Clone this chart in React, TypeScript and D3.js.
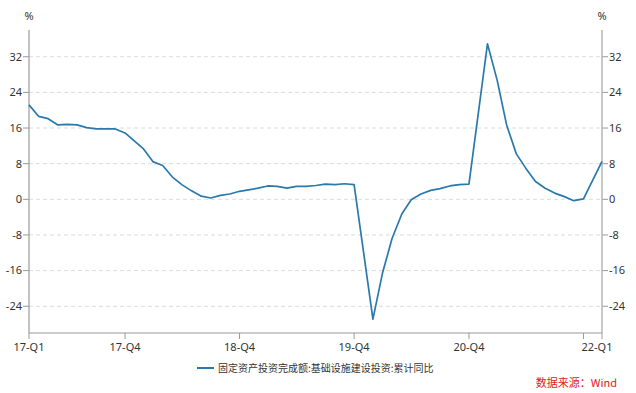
import React from "react";
import * as d3 from "d3";

const months: string[] = [
  "2017-02","2017-03","2017-04","2017-05","2017-06","2017-07","2017-08","2017-09","2017-10","2017-11","2017-12",
  "2018-02","2018-03","2018-04","2018-05","2018-06","2018-07","2018-08","2018-09","2018-10","2018-11","2018-12",
  "2019-02","2019-03","2019-04","2019-05","2019-06","2019-07","2019-08","2019-09","2019-10","2019-11","2019-12",
  "2020-02","2020-03","2020-04","2020-05","2020-06","2020-07","2020-08","2020-09","2020-10","2020-11","2020-12",
  "2021-02","2021-03","2021-04","2021-05","2021-06","2021-07","2021-08","2021-09","2021-10","2021-11","2021-12",
  "2022-02",
];

const values: number[] = [
  21.2, 18.6, 18.1, 16.7, 16.8, 16.7, 16.1, 15.8, 15.8, 15.8, 14.9,
  11.3, 8.4, 7.6, 5.0, 3.3, 1.9, 0.7, 0.3, 0.9, 1.2, 1.8,
  2.5, 3.0, 2.9, 2.5, 2.9, 2.9, 3.1, 3.4, 3.3, 3.5, 3.3,
  -26.9, -16.4, -8.8, -3.3, -0.1, 1.2, 2.0, 2.4, 3.0, 3.3, 3.4,
  34.9, 26.7, 16.7, 10.2, 7.0, 4.0, 2.5, 1.4, 0.6, -0.3, 0.1,
  8.5,
];

const xTickMonths: string[] = ["2017-02", "2017-12", "2018-12", "2019-12", "2020-12", "2021-12", "2022-02"];
const xTickLabels: string[] = ["17-Q1", "17-Q4", "18-Q4", "19-Q4", "20-Q4", "", "22-Q1"];
const yTicks: number[] = [-24, -16, -8, 0, 8, 16, 24, 32];
const yDomain: [number, number] = [-30, 38];

const seriesName = "固定资产投资完成额:基础设施建设投资:累计同比";
const sourceText = "数据来源：Wind";
const unitLabel = "%";

const W = 636;
const H = 393;
const left = 29;
const right = 602;
const top = 30;
const bottom = 333;

const toDate = (m: string) => {
  const [y, mo] = m.split("-").map(Number);
  return new Date(y, mo, 0);
};

const FONT = "'Noto Sans', 'Noto Sans CJK SC', sans-serif";
const LINE = "#2a79ad";

export default function App() {
  const dates = months.map(toDate);
  const x = d3.scaleTime().domain([dates[0], dates[dates.length - 1]]).range([left, right]);
  const y = d3.scaleLinear().domain(yDomain).range([bottom, top]);
  const data = dates.map((d, i) => ({ d, v: values[i] }));
  const line = d3.line<{ d: Date; v: number }>().x((p) => x(p.d)).y((p) => y(p.v));

  return (
    <svg width={W} height={H} style={{ position: "absolute", left: 0, top: 0, fontFamily: FONT }}>
      <rect width={W} height={H} fill="#fff" />
      {yTicks.map((t) => (
        <g key={t}>
          <line x1={left} x2={right} y1={y(t)} y2={y(t)} stroke="#dcdcdc" strokeDasharray="4,3" strokeWidth={1} />
          <line x1={left - 6} x2={left} y1={y(t)} y2={y(t)} stroke="#999" />
          <text x={left - 7} y={y(t)} dy="0.35em" textAnchor="end" fontSize={11} fill="#333">{t}</text>
          <line x1={right} x2={right + 6} y1={y(t)} y2={y(t)} stroke="#999" />
          <text x={right + 7} y={y(t)} dy="0.35em" textAnchor="start" fontSize={11} fill="#333">{t}</text>
        </g>
      ))}
      <text x={left} y={20} textAnchor="middle" fontSize={11} fill="#333">{unitLabel}</text>
      <text x={right} y={20} textAnchor="middle" fontSize={11} fill="#333">{unitLabel}</text>
      <line x1={left} x2={left} y1={top} y2={bottom} stroke="#999" strokeWidth={1.2} />
      <line x1={right} x2={right} y1={top} y2={bottom} stroke="#bbb" strokeWidth={1.6} />
      <line x1={left} x2={right} y1={bottom} y2={bottom} stroke="#999" strokeWidth={1} />
      {xTickMonths.map((m, i) => {
        const xp = x(toDate(m));
        const isLast = i === xTickMonths.length - 1;
        return (
          <g key={m}>
            <line x1={xp} x2={xp} y1={bottom} y2={bottom + 6} stroke="#999" />
            {xTickLabels[i] && (
              <text x={isLast ? xp - 5 : xp} y={351} textAnchor="middle" fontSize={11} fill="#333">
                {xTickLabels[i]}
              </text>
            )}
          </g>
        );
      })}
      <path d={line(data) ?? ""} fill="none" stroke={LINE} strokeWidth={1.7} strokeLinejoin="round" />
      <line x1={197} x2={214} y1={368} y2={368} stroke={LINE} strokeWidth={2} />
      <text x={218} y={371.5} fontSize={10} fill="#333" fontFamily="'Noto Sans CJK SC', sans-serif">{seriesName}</text>
      <text x={617} y={387} textAnchor="end" fontSize={11} fill="#e02020" fontFamily="'Noto Sans CJK SC', sans-serif">{sourceText}</text>
    </svg>
  );
}
